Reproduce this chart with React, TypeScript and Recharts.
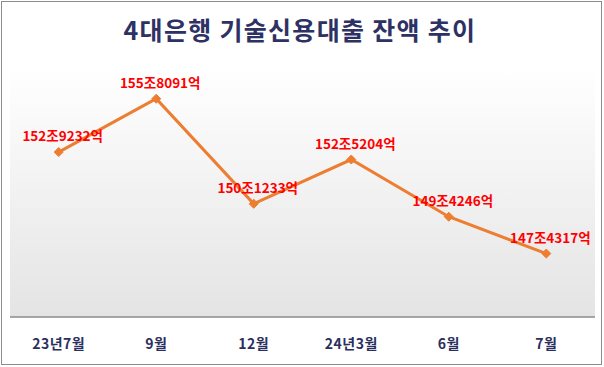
import React from 'react';
import { LineChart, Line, XAxis, YAxis, CartesianGrid, LabelList } from 'recharts';

const categories = ['23년7월', '9월', '12월', '24년3월', '6월', '7월'];
const values = [152.9232, 155.8091, 150.1233, 152.5204, 149.4246, 147.4317];
const valueLabels = ['152조9232억', '155조8091억', '150조1233억', '152조5204억', '149조4246억', '147조4317억'];

const data = categories.map((c, i) => ({ name: c, value: values[i], label: valueLabels[i] }));

const Diamond = (props: any) => {
  const { cx, cy } = props;
  if (cx == null || cy == null) return null;
  const r = 4.5;
  return (
    <path
      d={`M${cx},${cy - r} L${cx + r},${cy} L${cx},${cy + r} L${cx - r},${cy} Z`}
      fill="#ED7D31"
      stroke="#ED7D31"
      strokeWidth={1}
    />
  );
};

export default function App() {
  return (
    <div style={{ position: 'absolute', left: 0, top: 0, width: 604, height: 367, background: '#fff' }}>
      <div
        style={{
          position: 'absolute',
          left: 1,
          top: 1,
          width: 599,
          height: 362,
          border: '1.5px solid #8c8c8c',
          boxSizing: 'content-box',
        }}
      />
      <div
        style={{
          position: 'absolute',
          left: 0,
          top: 13,
          width: 600,
          textAlign: 'center',
          fontFamily: '"Noto Sans CJK KR", sans-serif',
          fontWeight: 700,
          fontSize: 25,
          letterSpacing: 1.3,
          color: '#2E3164',
          lineHeight: '32px',
        }}
      >
        4대은행 기술신용대출 잔액 추이
      </div>
      <div style={{ position: 'absolute', left: 0, top: 0 }}>
        <LineChart width={604} height={367} data={data} margin={{ top: 67.5, right: 9, bottom: 20, left: 10 }}>
          <defs>
            <linearGradient id="bgGrad" x1="0" y1="0" x2="0" y2="1">
              <stop offset="0%" stopColor="#ffffff" />
              <stop offset="100%" stopColor="#e4e4e4" />
            </linearGradient>
          </defs>
          <CartesianGrid fill="url(#bgGrad)" stroke="none" horizontal={false} vertical={false} />
          <XAxis
            dataKey="name"
            axisLine={{ stroke: '#8c8c8c', strokeWidth: 1.5 }}
            tickLine={false}
            height={30}
            tickMargin={16}
            padding={{ left: 48.7, right: 48.7 }}
            interval={0}
            tick={{ fill: '#2B2F5E', fontSize: 14, fontWeight: 700, letterSpacing: 0.5, fontFamily: '"Noto Sans CJK KR", sans-serif' }}
          />
          <YAxis hide domain={[144, 157.5]} />
          <Line
            type="linear"
            dataKey="value"
            stroke="#ED7D31"
            strokeWidth={3}
            dot={<Diamond />}
            activeDot={false}
            isAnimationActive={false}
          >
            <LabelList
              dataKey="label"
              position="top"
              offset={11}
              dx={4}
              fill="#FF0000"
              fontSize={13.5}
              fontWeight={700}
              fontFamily='"Noto Sans CJK KR", sans-serif'
            />
          </Line>
        </LineChart>
      </div>
    </div>
  );
}
